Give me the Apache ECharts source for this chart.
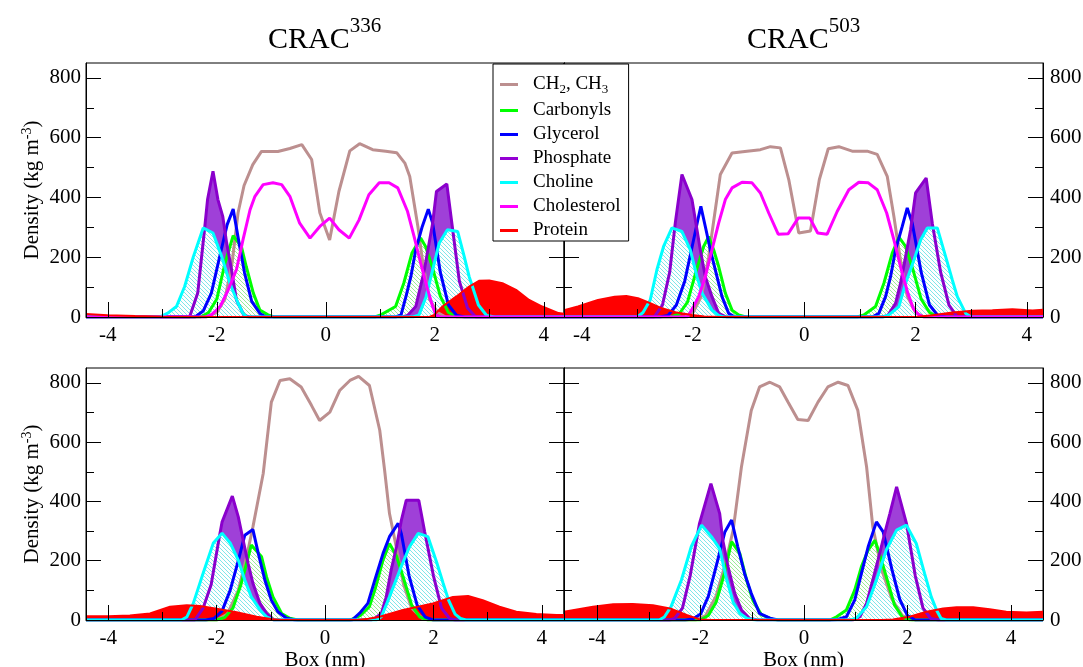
<!DOCTYPE html>
<html>
<head>
<meta charset="utf-8">
<script src="https://cdn.jsdelivr.net/npm/echarts@6/dist/echarts.min.js"></script>
<style>
html, body { margin: 0; padding: 0; background: #fff; }
#main { width: 1083px; height: 667px; }
</style>
</head>
<body>
<div id="main"></div>
<script>
// density profiles, [box position (nm), density (kg m-3)]
var seriesNames = ['CH2, CH3', 'Carbonyls', 'Glycerol', 'Phosphate', 'Choline', 'Cholesterol', 'Protein'];
var panelTitles = ['336', '503'];

var xMajor = [-4, -2, 0, 2, 4];
var xMinor = [-3, -1, 1, 3];
var yMajor = [0, 200, 400, 600, 800];
var yMinor = [100, 300, 500, 700];
var xRanges = [[-4.40, 4.37], [-4.32, 4.29], [-4.41, 4.41], [-4.64, 4.62]];
var yMax = 850;

// CRAC336, top
var tl_ch2 = [[-4.40,0],[-2.2,0],[-2.0,15],[-1.85,60],[-1.72,180],[-1.61,349],[-1.5,440],[-1.34,510],[-1.18,554],[-0.88,554],[-0.66,564],[-0.44,577],[-0.26,527],[-0.11,349],[0.07,258],[0.24,420],[0.44,556],[0.62,580],[0.86,560],[1.10,555],[1.30,550],[1.45,515],[1.54,470],[1.69,302],[1.78,180],[1.90,60],[2.05,15],[2.2,0],[4.37,0]];
var tl_carbonyls = [[-4.40,0],[-2.3,0],[-2.15,15],[-2.0,60],[-1.85,180],[-1.70,272],[-1.55,236],[-1.46,169],[-1.33,80],[-1.21,23],[-1.06,7],[-0.95,0],[0.9,0],[1.01,7],[1.28,35],[1.43,113],[1.58,214],[1.74,264],[1.83,236],[1.95,170],[2.1,70],[2.25,15],[2.4,0],[4.37,0]];
var tl_glycerol = [[-4.40,0],[-2.4,0],[-2.25,20],[-2.1,80],[-1.95,200],[-1.81,309],[-1.70,361],[-1.58,236],[-1.49,147],[-1.36,52],[-1.21,12],[-1.1,0],[1.28,0],[1.38,7],[1.47,68],[1.56,135],[1.65,225],[1.77,303],[1.88,361],[1.96,314],[2.1,150],[2.25,40],[2.4,5],[2.55,0],[4.37,0]];
var tl_phosphate = [[-4.40,0],[-2.5,0],[-2.35,80],[-2.22,302],[-2.17,393],[-2.07,488],[-1.98,393],[-1.89,336],[-1.82,248],[-1.73,158],[-1.64,57],[-1.5,5],[-1.4,0],[1.4,0],[1.5,5],[1.65,35],[1.80,150],[1.96,314],[2.03,420],[2.22,445],[2.32,303],[2.45,120],[2.6,30],[2.75,0],[4.37,0]];
var tl_choline = [[-4.40,0],[-3.05,0],[-2.90,13],[-2.74,35],[-2.59,102],[-2.43,202],[-2.25,298],[-2.07,281],[-1.91,202],[-1.76,113],[-1.61,46],[-1.52,12],[-1.45,0],[1.6,0],[1.71,7],[1.84,68],[1.96,158],[2.08,247],[2.23,292],[2.42,286],[2.54,202],[2.63,135],[2.69,102],[2.8,40],[2.95,5],[3.1,0],[4.37,0]];
var tl_cholesterol = [[-4.40,0],[-2.2,0],[-2.10,7],[-1.94,35],[-1.79,91],[-1.64,158],[-1.52,258],[-1.39,359],[-1.30,404],[-1.15,443],[-0.97,449],[-0.81,443],[-0.66,404],[-0.48,314],[-0.29,264],[-0.11,303],[0.07,331],[0.24,292],[0.43,264],[0.61,325],[0.79,409],[0.98,449],[1.16,449],[1.32,432],[1.50,353],[1.62,269],[1.74,180],[1.87,91],[1.96,35],[2.02,7],[2.1,0],[4.37,0]];
var tl_protein = [[-4.40,10],[-4.0,6],[-3.5,3],[-3.0,1],[-2.6,0],[1.9,0],[1.99,7],[2.14,35],[2.39,68],[2.63,102],[2.81,121],[3.0,122],[3.24,113],[3.49,91],[3.73,57],[3.97,35],[4.27,13],[4.37,11]];

// CRAC503, top
var tr_ch2 = [[-4.32,0],[-2.15,0],[-2.0,15],[-1.85,70],[-1.72,200],[-1.66,281],[-1.51,477],[-1.30,549],[-1.03,555],[-0.79,560],[-0.61,570],[-0.43,566],[-0.28,460],[-0.10,281],[0.11,288],[0.27,460],[0.43,563],[0.62,570],[0.86,555],[1.13,555],[1.31,544],[1.49,471],[1.61,336],[1.72,200],[1.85,70],[2.0,15],[2.15,0],[4.29,0]];
var tr_carbonyls = [[-4.32,0],[-2.4,0],[-2.25,10],[-2.1,50],[-1.95,150],[-1.81,236],[-1.72,269],[-1.63,225],[-1.54,169],[-1.42,80],[-1.30,23],[-1.18,7],[-1.05,0],[0.95,0],[1.07,7],[1.28,35],[1.43,113],[1.58,214],[1.70,267],[1.82,236],[1.95,160],[2.1,60],[2.25,15],[2.4,0],[4.29,0]];
var tr_glycerol = [[-4.32,0],[-2.6,0],[-2.45,5],[-2.3,40],[-2.15,120],[-2.0,250],[-1.90,337],[-1.86,370],[-1.78,303],[-1.69,225],[-1.57,135],[-1.48,68],[-1.36,12],[-1.25,0],[1.22,0],[1.34,12],[1.46,68],[1.55,135],[1.64,225],[1.76,303],[1.85,365],[1.94,314],[2.1,150],[2.25,40],[2.4,5],[2.55,0],[4.29,0]];
var tr_phosphate = [[-4.32,0],[-2.7,0],[-2.55,40],[-2.42,150],[-2.32,314],[-2.20,477],[-2.02,393],[-1.93,292],[-1.87,225],[-1.78,135],[-1.66,68],[-1.54,12],[-1.4,0],[1.4,0],[1.5,5],[1.64,46],[1.73,113],[1.82,202],[1.91,292],[2.0,415],[2.19,465],[2.30,314],[2.45,150],[2.6,40],[2.75,0],[4.29,0]];
var tr_choline = [[-4.32,0],[-3.0,0],[-2.9,15],[-2.77,57],[-2.65,158],[-2.53,236],[-2.38,298],[-2.20,286],[-2.05,225],[-1.93,135],[-1.84,80],[-1.66,23],[-1.54,5],[-1.45,0],[1.42,0],[1.52,7],[1.70,35],[1.82,113],[1.97,191],[2.09,258],[2.21,298],[2.39,298],[2.54,202],[2.66,124],[2.75,68],[2.90,12],[3.0,0],[4.29,0]];
var tr_cholesterol = [[-4.32,0],[-2.1,0],[-1.99,35],[-1.90,68],[-1.78,135],[-1.66,225],[-1.54,314],[-1.42,393],[-1.30,432],[-1.12,451],[-0.94,449],[-0.79,415],[-0.64,348],[-0.47,277],[-0.29,279],[-0.11,331],[0.10,331],[0.24,281],[0.41,277],[0.59,353],[0.80,426],[0.98,451],[1.15,449],[1.31,426],[1.48,348],[1.61,258],[1.74,160],[1.86,80],[1.96,28],[2.06,7],[2.15,0],[4.29,0]];
var tr_protein = [[-4.32,23],[-4.07,35],[-3.71,57],[-3.41,68],[-3.20,70],[-2.99,63],[-2.77,46],[-2.56,29],[-2.32,16],[-2.02,7],[-1.8,2],[-1.5,0],[2.0,0],[2.3,6],[2.66,15],[3.02,21],[3.38,23],[3.74,26],[4.10,22],[4.29,24]];

// CRAC336, bottom
var bl_ch2 = [[-4.41,0],[-2.0,0],[-1.8,20],[-1.6,100],[-1.45,210],[-1.33,314],[-1.14,494],[-0.99,735],[-0.83,808],[-0.65,814],[-0.44,786],[-0.25,724],[-0.10,673],[0.09,701],[0.27,774],[0.46,808],[0.62,822],[0.82,791],[1.01,640],[1.10,505],[1.19,359],[1.30,260],[1.45,120],[1.6,40],[1.8,5],[2.0,0],[4.41,0]];
var bl_carbonyls = [[-4.41,0],[-2.0,0],[-1.85,8],[-1.7,40],[-1.55,120],[-1.40,224],[-1.36,253],[-1.17,213],[-1.08,146],[-0.96,78],[-0.80,22],[-0.65,6],[-0.5,0],[0.45,0],[0.5,3],[0.65,15],[0.82,45],[0.92,101],[1.07,202],[1.19,258],[1.32,215],[1.45,140],[1.6,50],[1.75,10],[1.9,0],[4.41,0]];
var bl_glycerol = [[-4.41,0],[-2.2,0],[-2.05,5],[-1.9,30],[-1.75,100],[-1.6,200],[-1.48,286],[-1.33,305],[-1.23,224],[-1.11,135],[-0.99,67],[-0.87,28],[-0.71,6],[-0.55,0],[0.5,0],[0.64,23],[0.79,56],[0.92,135],[1.07,224],[1.19,281],[1.35,326],[1.41,290],[1.55,150],[1.7,50],[1.85,10],[2.0,0],[4.41,0]];
var bl_phosphate = [[-4.41,0],[-2.4,0],[-2.25,40],[-2.1,120],[-1.95,280],[-1.90,330],[-1.71,418],[-1.60,348],[-1.51,269],[-1.42,191],[-1.33,124],[-1.20,56],[-1.08,23],[-0.95,0],[0.85,0],[0.9,3],[1.04,22],[1.13,78],[1.22,168],[1.32,247],[1.41,337],[1.50,404],[1.73,404],[1.84,297],[2.0,150],[2.15,40],[2.3,5],[2.4,0],[4.41,0]];
var bl_choline = [[-4.41,0],[-2.65,0],[-2.55,10],[-2.43,56],[-2.25,157],[-2.06,260],[-1.90,293],[-1.75,260],[-1.60,202],[-1.48,135],[-1.36,78],[-1.20,34],[-1.08,11],[-0.95,0],[0.95,0],[1.04,11],[1.19,78],[1.38,168],[1.56,247],[1.72,292],[1.90,281],[2.06,195],[2.18,124],[2.28,67],[2.4,20],[2.5,5],[2.6,0],[4.41,0]];
var bl_protein = [[-4.41,13],[-4.0,13],[-3.6,15],[-3.23,22],[-2.86,45],[-2.55,50],[-2.31,47],[-2.0,38],[-1.63,26],[-1.26,11],[-1.0,3],[-0.8,0],[0.6,0],[0.8,4],[1.01,11],[1.44,34],[1.99,56],[2.36,78],[2.64,81],[2.91,67],[3.22,45],[3.53,28],[3.90,20],[4.27,17],[4.41,17]];

// CRAC503, bottom
var br_ch2 = [[-4.64,0],[-2.1,0],[-1.9,15],[-1.7,80],[-1.52,190],[-1.37,303],[-1.21,516],[-1.02,707],[-0.86,786],[-0.66,802],[-0.47,786],[-0.31,735],[-0.12,676],[0.08,673],[0.27,735],[0.46,786],[0.66,802],[0.85,791],[1.04,707],[1.21,516],[1.33,314],[1.5,170],[1.7,70],[1.9,15],[2.1,0],[4.62,0]];
var br_carbonyls = [[-4.64,0],[-2.0,0],[-1.85,15],[-1.7,60],[-1.55,150],[-1.40,264],[-1.24,224],[-1.11,135],[-0.99,67],[-0.82,17],[-0.60,2],[-0.5,0],[0.5,0],[0.63,11],[0.82,34],[0.98,101],[1.11,180],[1.24,236],[1.37,269],[1.46,224],[1.6,140],[1.75,50],[1.9,10],[2.05,0],[4.62,0]];
var br_glycerol = [[-4.64,0],[-2.3,0],[-2.15,3],[-2.0,20],[-1.85,80],[-1.7,180],[-1.53,297],[-1.40,337],[-1.28,247],[-1.15,157],[-1.02,90],[-0.86,22],[-0.66,6],[-0.5,0],[0.5,0],[0.65,2],[0.82,11],[0.98,67],[1.11,157],[1.24,247],[1.40,331],[1.53,297],[1.7,170],[1.85,70],[2.0,15],[2.15,0],[4.62,0]];
var br_phosphate = [[-4.64,0],[-2.6,0],[-2.5,5],[-2.35,40],[-2.2,150],[-2.02,326],[-1.80,460],[-1.63,359],[-1.57,269],[-1.47,180],[-1.34,90],[-1.21,34],[-1.05,5],[-0.9,0],[0.95,0],[1.08,11],[1.21,56],[1.33,135],[1.43,202],[1.56,292],[1.66,359],[1.79,449],[1.98,326],[2.15,150],[2.3,40],[2.45,5],[2.6,0],[4.62,0]];
var br_choline = [[-4.64,0],[-2.8,0],[-2.7,10],[-2.57,45],[-2.37,135],[-2.18,247],[-1.98,320],[-1.79,281],[-1.63,240],[-1.50,140],[-1.37,60],[-1.24,22],[-1.1,5],[-0.95,0],[0.9,0],[1.01,6],[1.21,45],[1.40,135],[1.59,236],[1.79,303],[1.98,320],[2.17,258],[2.33,157],[2.46,78],[2.56,34],[2.65,5],[2.75,0],[4.62,0]];
var br_protein = [[-4.64,28],[-4.08,45],[-3.69,53],[-3.31,54],[-2.92,50],[-2.59,39],[-2.27,17],[-2.02,2],[-1.8,0],[1.5,0],[1.72,2],[2.04,11],[2.37,28],[2.69,39],[2.95,43],[3.27,43],[3.59,36],[3.91,28],[4.30,25],[4.62,28]];

var panelData = [
  [tl_ch2, tl_carbonyls, tl_glycerol, tl_phosphate, tl_choline, tl_cholesterol, tl_protein],
  [tr_ch2, tr_carbonyls, tr_glycerol, tr_phosphate, tr_choline, tr_cholesterol, tr_protein],
  [bl_ch2, bl_carbonyls, bl_glycerol, bl_phosphate, bl_choline, null, bl_protein],
  [br_ch2, br_carbonyls, br_glycerol, br_phosphate, br_choline, null, br_protein]
];

var serif = '"Liberation Serif", "Times New Roman", serif';

// diagonal hatch used by xmgrace-style pattern fills
function hatch(color) {
  var c = document.createElement('canvas');
  c.width = 4; c.height = 4;
  var g = c.getContext('2d');
  g.fillStyle = '#fff';
  g.fillRect(0, 0, 4, 4);
  g.fillStyle = color;
  for (var i = 0; i < 4; i++) g.fillRect(i, i, 1, 1);
  return { image: c, repeat: 'repeat' };
}

var styles = [
  { color: '#bc8f8f' },
  { color: '#00ff00', area: hatch('#99ea99') },
  { color: '#0000ff' },
  { color: '#9400d3', line: '#8a00cc', area: '#9f40d8' },
  { color: '#00ffff', area: hatch('#7fe6ea') },
  { color: '#ff00ff' },
  { color: '#ff0000', width: 2, area: '#ff0000' }
];

var grids = [
  { left: 86, top: 63, width: 478, height: 254 },
  { left: 564, top: 63, width: 479, height: 254 },
  { left: 86, top: 368, width: 478, height: 252 },
  { left: 564, top: 368, width: 479, height: 252 }
].map(function (g) {
  return Object.assign(g, { show: true, borderColor: '#000', borderWidth: 1, backgroundColor: 'transparent', outerBoundsMode: 'none' });
});

var tickLine = { color: '#000', width: 1 };
var labelStyle = { color: '#000', fontFamily: serif, fontSize: 21 };

var xAxes = [];
var yAxes = [];
grids.forEach(function (g, gi) {
  var r = xRanges[gi];
  var bottomRow = gi >= 2;
  var leftCol = gi % 2 === 0;
  var major = {
    gridIndex: gi, type: 'value', min: r[0], max: r[1], position: 'bottom', z: 10,
    splitLine: { show: false },
    axisLine: { onZero: false, lineStyle: tickLine },
    axisTick: { inside: true, length: 15, customValues: xMajor, lineStyle: tickLine },
    axisLabel: Object.assign({ customValues: xMajor, margin: 8 }, labelStyle)
  };
  if (bottomRow) {
    major.name = 'Box (nm)';
    major.nameLocation = 'middle';
    major.nameGap = 28;
    major.nameTextStyle = labelStyle;
  }
  xAxes.push(major);
  xAxes.push({
    gridIndex: gi, type: 'value', min: r[0], max: r[1], position: 'bottom', z: 10,
    splitLine: { show: false },
    axisLine: { show: false, onZero: false },
    axisTick: { inside: true, length: 8, customValues: xMinor, lineStyle: tickLine },
    axisLabel: { show: false }
  });
  ['left', 'right'].forEach(function (pos) {
    var showLabels = (pos === 'left') === leftCol;
    var ax = {
      gridIndex: gi, type: 'value', min: 0, max: yMax, position: pos, z: 10,
      splitLine: { show: false },
      axisLine: { onZero: false, lineStyle: tickLine },
      axisTick: { inside: true, length: 15, customValues: yMajor, lineStyle: tickLine },
      axisLabel: showLabels ? Object.assign({ customValues: yMajor, margin: pos === 'left' ? 5 : 7 }, labelStyle) : { show: false }
    };
    if (pos === 'left' && leftCol) {
      ax.name = 'Density (kg m{sup|-3})';
      ax.nameLocation = 'middle';
      ax.nameGap = 42;
      ax.nameTextStyle = Object.assign({ rich: { sup: { fontFamily: serif, fontSize: 14, color: '#000', padding: [0, 0, 10, 0] } } }, labelStyle);
    }
    yAxes.push(ax);
    yAxes.push({
      gridIndex: gi, type: 'value', min: 0, max: yMax, position: pos, z: 10,
      splitLine: { show: false },
      axisLine: { show: false, onZero: false },
      axisTick: { inside: true, length: 8, customValues: yMinor, lineStyle: tickLine },
      axisLabel: { show: false }
    });
  });
});

var series = [];
panelData.forEach(function (list, gi) {
  list.forEach(function (data, k) {
    if (!data) return;
    var st = styles[k];
    var s = {
      type: 'line', name: seriesNames[k], xAxisIndex: gi * 2, yAxisIndex: gi * 4,
      data: data, symbol: 'none', showSymbol: false, color: st.color,
      lineStyle: { color: st.line || st.color, width: st.width || 3 },
      emphasis: { disabled: true }, silent: true
    };
    if (st.area) s.areaStyle = { color: st.area, opacity: 1 };
    series.push(s);
  });
});

var titleRich = {
  m: { fontFamily: serif, fontSize: 30, fontWeight: 'normal', color: '#000' },
  p: { fontFamily: serif, fontSize: 21, fontWeight: 'normal', color: '#000', padding: [0, 0, 28, 0] }
};

var myChart = echarts.init(document.getElementById('main'));
option = {
  animation: false,
  backgroundColor: '#fff',
  title: [
    { text: '{m|CRAC}{p|' + panelTitles[0] + '}', left: 263, top: 11, textStyle: { fontWeight: 'normal', rich: titleRich } },
    { text: '{m|CRAC}{p|' + panelTitles[1] + '}', left: 742, top: 11, textStyle: { fontWeight: 'normal', rich: titleRich } }
  ],
  legend: {
    data: seriesNames,
    orient: 'vertical',
    left: 493, top: 64,
    z: 30,
    backgroundColor: '#fff',
    borderColor: '#000', borderWidth: 1, borderRadius: 0,
    padding: [11, 8, 1, 7],
    icon: 'rect', itemWidth: 18, itemHeight: 3, itemGap: 5,
    selectedMode: false,
    formatter: function (name) {
      return name === 'CH2, CH3' ? 'CH{s|2}, CH{s|3}' : name;
    },
    textStyle: {
      fontFamily: serif, fontSize: 19, color: '#000', padding: [0, 0, 0, 10],
      rich: { s: { fontFamily: serif, fontSize: 13, color: '#000', padding: [10, 0, 0, 0] } }
    }
  },
  grid: grids,
  xAxis: xAxes,
  yAxis: yAxes,
  series: series
};
myChart.setOption(option, true);
</script>
</body>
</html>
